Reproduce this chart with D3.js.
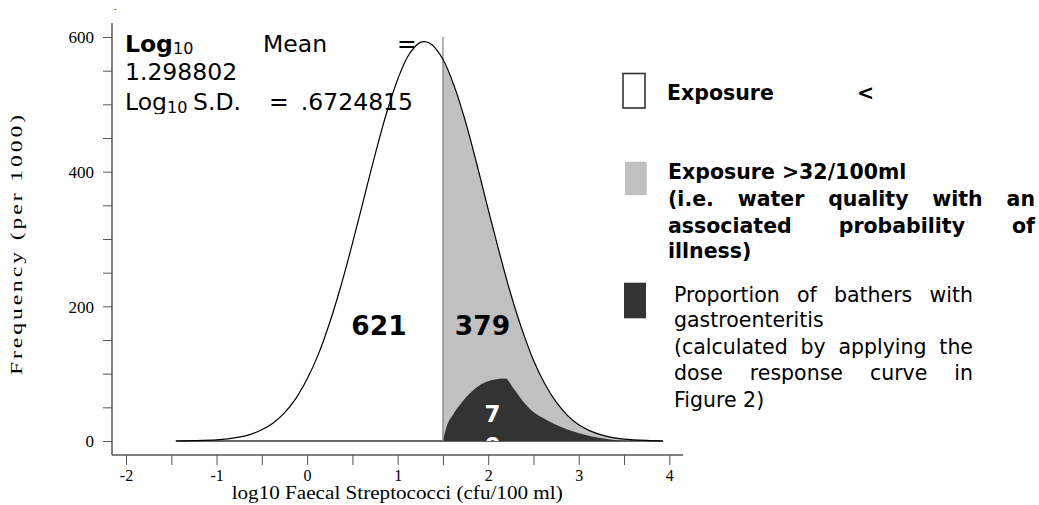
<!DOCTYPE html>
<html>
<head>
<meta charset="utf-8">
<script src="https://cdn.jsdelivr.net/npm/d3@7"></script>
<style>
  body { margin: 0; background: #fff; }
  .axis text { font-family: "Liberation Serif", serif; fill: #000; }
  .axis line { stroke: #555; }
  .verd { font-family: "DejaVu Sans", Verdana, sans-serif; }
</style>
</head>
<body>
<script>

// log10 faecal streptococci vs frequency (per 1000)
var logCount = [-1.45, -1.25, -1, -0.875, -0.75, -0.625, -0.5, -0.375, -0.25, -0.125, 0, 0.125, 0.25, 0.375, 0.5, 0.625, 0.75, 0.875, 1, 1.125, 1.25, 1.3, 1.375, 1.5, 1.625, 1.75, 1.875, 2, 2.125, 2.25, 2.375, 2.5, 2.625, 2.75, 2.875, 3, 3.125, 3.25, 3.375, 3.5, 3.75, 3.93];
var frequency = [0, 0.5, 1.7, 3.2, 5.7, 9.9, 16.6, 26.8, 41.8, 63, 92, 129, 176, 231, 293, 359, 425, 486, 537, 574, 592, 593, 589, 567, 527, 474, 411, 344, 279, 218, 165, 120, 85, 58, 38, 24, 15, 9, 5, 2.8, 0.8, 0];

// bathers with gastroenteritis
var illLogCount = [1.5, 1.54, 1.62, 1.73, 1.84, 1.95, 2.06, 2.19, 2.28, 2.39, 2.5, 2.65, 2.8, 2.94, 3.13, 3.31, 3.46, 3.6];
var illFrequency = [0, 21, 41, 61, 76, 86, 91, 93, 78, 58, 43, 31, 21, 14, 7, 3, 0.5, 0];

var cutoff = 1.5;       // log10(32)
var countBelow = 621;
var countAbove = 379;
var countIll = 70;

var xTickValues = [-2, -1.5, -1, -0.5, 0, 0.5, 1, 1.5, 2, 2.5, 3, 3.5, 4];
var xTickLabels = [-2, -1, 0, 1, 2, 3, 4];
var yTickValues = [0, 50, 100, 150, 200, 250, 300, 350, 400, 450, 500, 550, 600];
var yTickLabels = [0, 200, 400, 600];

var svgWidth = 1039;
var svgHeight = 505;

var svg = d3.select('body').append('svg')
  .attr('width', svgWidth).attr('height', svgHeight);

var x = d3.scaleLinear().domain([-2, 4]).range([126, 669.3]);
var y = d3.scaleLinear().domain([0, 600]).range([441, 37]);

var curveData = logCount.map(function (d, i) { return [d, frequency[i]]; });
var upperData = curveData.filter(function (d) { return d[0] >= cutoff; });
var illData = illLogCount.map(function (d, i) { return [d, illFrequency[i]]; });

// shaded areas
var area = d3.area()
  .x(function (d) { return x(d[0]); })
  .y0(y(0))
  .y1(function (d) { return y(d[1]); })
  .curve(d3.curveCatmullRom);

svg.append('path').datum(upperData).attr('d', area).attr('fill', '#c0c0c0');
svg.append('path').datum(illData)
  .attr('d', area.curve(d3.curveMonotoneX))
  .attr('fill', '#333333');

// zero line and cutoff
svg.append('line')
  .attr('x1', x(logCount[0])).attr('x2', x(logCount[logCount.length - 1]))
  .attr('y1', y(0)).attr('y2', y(0))
  .attr('stroke', '#333').attr('stroke-width', 1.3);

svg.append('line')
  .attr('x1', x(cutoff)).attr('x2', x(cutoff))
  .attr('y1', y(0)).attr('y2', y(600))
  .attr('stroke', '#808080').attr('stroke-width', 1.2);

var line = d3.line()
  .x(function (d) { return x(d[0]); })
  .y(function (d) { return y(d[1]); })
  .curve(d3.curveCatmullRom);

svg.append('path').datum(curveData)
  .attr('d', line)
  .attr('fill', 'none')
  .attr('stroke', '#000')
  .attr('stroke-width', 1.2);

// axes
var yAxis = svg.append('g')
  .attr('class', 'axis')
  .attr('transform', 'translate(112,0)')
  .call(d3.axisLeft(y).tickValues(yTickValues).tickSize(9).tickPadding(9)
    .tickFormat(function (d) { return yTickLabels.indexOf(d) >= 0 ? String(d) : ''; }));
yAxis.select('.domain').remove();
yAxis.selectAll('text').style('font-size', '17px').attr('dy', '0.35em');
yAxis.append('line')
  .attr('x1', 0).attr('x2', 0).attr('y1', 23).attr('y2', 455)
  .attr('stroke', '#555').attr('stroke-width', 1.5);

var xAxis = svg.append('g')
  .attr('class', 'axis')
  .attr('transform', 'translate(0,455)')
  .call(d3.axisBottom(x).tickValues(xTickValues).tickSize(10)
    .tickFormat(function (d) { return xTickLabels.indexOf(d) >= 0 ? String(d) : ''; }));
xAxis.select('.domain').remove();
xAxis.selectAll('text').style('font-size', '16px').attr('y', 25.5).attr('dy', 0);
xAxis.append('line')
  .attr('x1', 112).attr('x2', 683).attr('y1', 0).attr('y2', 0)
  .attr('stroke', '#555').attr('stroke-width', 1.5);

svg.append('text')
  .attr('x', 231.7).attr('y', 498.5)
  .attr('font-family', '"Liberation Serif", serif')
  .attr('font-size', 18.5)
  .attr('textLength', 331)
  .attr('lengthAdjust', 'spacingAndGlyphs')
  .text('log10 Faecal Streptococci (cfu/100 ml)');

svg.append('text')
  .attr('transform', 'translate(22,243.5) rotate(-90)')
  .attr('text-anchor', 'middle')
  .attr('font-family', '"Liberation Serif", serif')
  .attr('font-size', 16)
  .attr('textLength', 263)
  .attr('lengthAdjust', 'spacingAndGlyphs')
  .attr('letter-spacing', 2)
  .text('Frequency (per 1000)');

svg.append('text')
  .attr('x', 114).attr('y', 10).attr('font-size', 10).attr('font-family', 'serif')
  .text('.');

// mean / sd text box (clipped at the bottom like the original)
svg.append('clipPath').attr('id', 'statsClip')
  .append('rect').attr('x', 0).attr('y', 0).attr('width', 450).attr('height', 114);

var stats = svg.append('g').attr('class', 'verd')
  .attr('clip-path', 'url(#statsClip)')
  .attr('font-size', 23.5);

var l1 = stats.append('text').attr('x', 125).attr('y', 51.7);
l1.append('tspan').attr('font-weight', 'bold').text('Log');
l1.append('tspan').attr('font-size', 16).attr('dy', 2).text('10');
stats.append('text').attr('x', 263).attr('y', 51.7).text('Mean');
stats.append('text').attr('x', 397).attr('y', 51.7).text('=');
stats.append('text').attr('x', 125).attr('y', 80).text('1.298802');

var l3 = stats.append('text').attr('x', 125).attr('y', 110);
l3.append('tspan').text('Log');
l3.append('tspan').attr('font-size', 16).attr('dy', 3).text('10');
stats.append('text').attr('x', 193).attr('y', 110).text('S.D.');
stats.append('text').attr('x', 269).attr('y', 110).text('=');
stats.append('text').attr('x', 413).attr('y', 110).attr('text-anchor', 'end').text('.6724815');

// counts inside areas
svg.append('text').attr('class', 'verd')
  .attr('x', 379).attr('y', 335).attr('text-anchor', 'middle')
  .attr('font-size', 26.5).attr('font-weight', 'bold')
  .text(countBelow);
svg.append('text').attr('class', 'verd')
  .attr('x', 482.5).attr('y', 335).attr('text-anchor', 'middle')
  .attr('font-size', 26.5).attr('font-weight', 'bold')
  .text(countAbove);

svg.append('clipPath').attr('id', 'illClip')
  .append('rect').attr('x', 0).attr('y', 0).attr('width', svgWidth).attr('height', y(0));

var illText = svg.append('g').attr('clip-path', 'url(#illClip)')
  .attr('class', 'verd').attr('font-size', 23).attr('font-weight', 'bold')
  .attr('fill', '#fff').attr('text-anchor', 'middle');
String(countIll).split('').forEach(function (ch, i) {
  illText.append('text').attr('x', 492.5).attr('y', 421.7 + i * 32).text(ch);
});

// legend
var legend = svg.append('g').attr('class', 'verd').attr('font-size', 20.5);

function justifyLine(parent, words, x0, x1, baseline, bold) {
  var nodes = words.map(function (w) {
    var t = parent.append('text').attr('y', baseline).text(w);
    if (bold) t.attr('font-weight', 'bold');
    return t;
  });
  var widths = nodes.map(function (t) { return t.node().getComputedTextLength(); });
  var gap = (x1 - x0 - d3.sum(widths)) / Math.max(1, words.length - 1);
  var pos = x0;
  nodes.forEach(function (t, i) {
    t.attr('x', pos);
    pos += widths[i] + gap;
  });
}

legend.append('rect')
  .attr('x', 623).attr('y', 73.5).attr('width', 22).attr('height', 34.5)
  .attr('fill', '#fff').attr('stroke', '#333').attr('stroke-width', 1.6);
legend.append('text').attr('x', 667).attr('y', 100).attr('font-weight', 'bold').text('Exposure');
legend.append('text').attr('x', 857).attr('y', 100).attr('font-weight', 'bold').text('<');

legend.append('rect')
  .attr('x', 625).attr('y', 161.7).attr('width', 21.7).attr('height', 33.3)
  .attr('fill', '#c0c0c0');
legend.append('text').attr('x', 668).attr('y', 178.5).attr('font-weight', 'bold').text('Exposure >32/100ml');
justifyLine(legend, ['(i.e.', 'water', 'quality', 'with', 'an'], 668, 1035, 206, true);
justifyLine(legend, ['associated', 'probability', 'of'], 668, 1035, 232.5, true);
legend.append('text').attr('x', 668).attr('y', 258).attr('font-weight', 'bold').text('illness)');

legend.append('rect')
  .attr('x', 624).attr('y', 282.7).attr('width', 22).attr('height', 35.6)
  .attr('fill', '#333333');
justifyLine(legend, ['Proportion', 'of', 'bathers', 'with'], 674, 973, 301.5, false);
legend.append('text').attr('x', 674).attr('y', 327).text('gastroenteritis');
justifyLine(legend, ['(calculated', 'by', 'applying', 'the'], 674, 973, 353.5, false);
justifyLine(legend, ['dose', 'response', 'curve', 'in'], 674, 973, 380, false);
legend.append('text').attr('x', 674).attr('y', 406.5).text('Figure 2)');

</script>
</body>
</html>
